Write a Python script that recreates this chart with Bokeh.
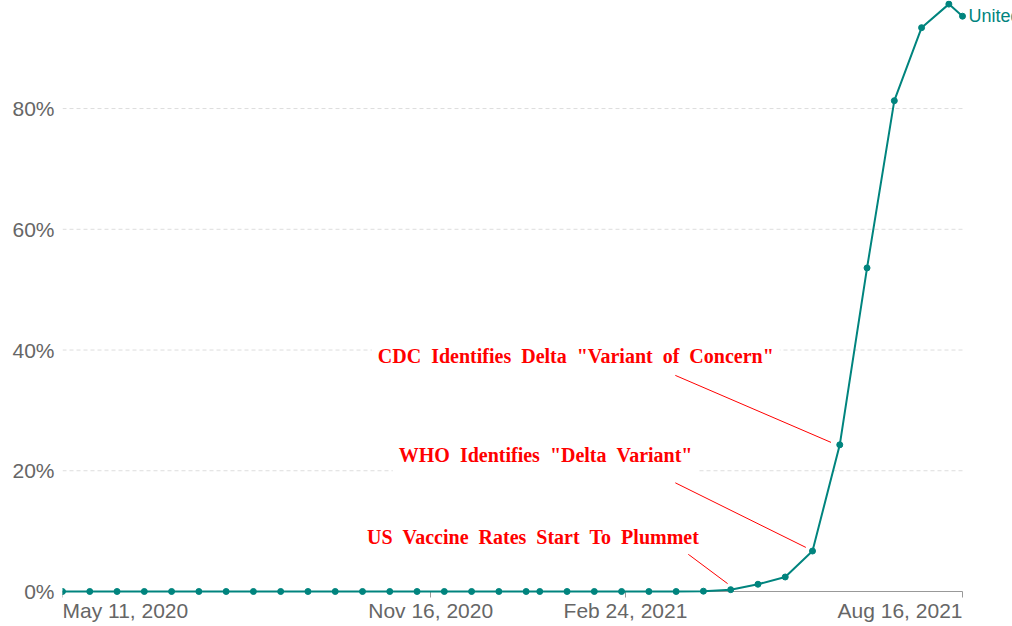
import pandas as pd
from bokeh.plotting import figure
from bokeh.models import (ColumnDataSource, Range1d, FixedTicker,
                          CustomJSTickFormatter, Label)
from bokeh.embed import file_html
from bokeh.resources import INLINE

# ---------------- data ----------------
DATES = [
    "2020-05-11", "2020-05-25", "2020-06-08", "2020-06-22", "2020-07-06",
    "2020-07-20", "2020-08-03", "2020-08-17", "2020-08-31", "2020-09-14",
    "2020-09-28", "2020-10-12", "2020-10-26", "2020-11-09", "2020-11-23",
    "2020-12-07", "2020-12-21", "2021-01-04", "2021-01-11", "2021-01-25",
    "2021-02-08", "2021-02-22", "2021-03-08", "2021-03-22", "2021-04-05",
    "2021-04-19", "2021-05-03", "2021-05-17", "2021-05-31", "2021-06-14",
    "2021-06-28", "2021-07-12", "2021-07-26", "2021-08-09", "2021-08-16",
]
DELTA_SHARE = [
    0, 0, 0, 0, 0,
    0, 0, 0, 0, 0,
    0, 0, 0, 0, 0,
    0, 0, 0, 0, 0,
    0, 0, 0, 0, 0.05,
    0.3, 1.2, 2.4, 6.7, 24.3,
    53.6, 81.3, 93.4, 97.3, 95.3,
]
SERIES_NAME = "United States"

X_TICK_DATES = ["2020-05-11", "2020-11-16", "2021-02-24", "2021-08-16"]
X_TICK_LABELS = ["May 11, 2020", "Nov 16, 2020", "Feb 24, 2021", "Aug 16, 2021"]
Y_TICKS = [0, 20, 40, 60, 80]
Y_GRID = [20, 40, 60, 80]

SP = "\u2002"
ANNOT_TEXTS = [
    SP.join(["CDC", "Identifies", "Delta", '"Variant', "of", 'Concern"']),
    SP.join(["WHO", "Identifies", '"Delta', 'Variant"']),
    SP.join(["US", "Vaccine", "Rates", "Start", "To", "Plummet"]),
]
ANNOT_TEXT_DATE = ["2021-01-29 12:00", "2021-01-14 00:00", "2021-01-07 12:00"]
ANNOT_TEXT_VALUE = [39.0, 22.6, 9.0]
ANNOT_FROM_DATE = ["2021-03-21 14:00", "2021-03-21 14:00", "2021-03-28 02:00"]
ANNOT_FROM_VALUE = [35.8, 18.0, 6.2]
ANNOT_TO_DATE = ["2021-06-09 12:00", "2021-05-27 14:00", "2021-04-17 10:00"]
ANNOT_TO_VALUE = [24.7, 7.3, 1.3]

# ---------------- layout / style ----------------
W, H = 1012, 626
LEFT = 62            # frame left edge (px)
DATA_RIGHT = 962     # pixel where the last date sits
Y_LO, Y_HI = -5.8, 97.9   # frame covers the area under the axis too

TEAL = "#00847e"
RED = "#ff0000"
GRAY_TXT = "#666666"
SANS = "Liberation Sans"
SERIF = "Liberation Serif"

dates = pd.to_datetime(DATES)
span = dates[-1] - dates[0]
x_end = dates[-1] + span * ((W - DATA_RIGHT) / (DATA_RIGHT - LEFT))

src = ColumnDataSource(dict(date=dates, share=DELTA_SHARE))

p = figure(width=W, height=H, x_axis_type="datetime",
           output_backend="svg", toolbar_location=None, tools="",
           x_range=Range1d(dates[0], x_end),
           y_range=Range1d(Y_LO, Y_HI),
           min_border_left=LEFT, min_border_right=0,
           min_border_top=0, min_border_bottom=0)
p.outline_line_color = None
p.background_fill_color = "white"
p.border_fill_color = "white"

# grid (dashed, limited to the data's date span)
p.xgrid.visible = False
p.ygrid.visible = False
grid_src = ColumnDataSource(dict(
    x0=[dates[0]] * len(Y_GRID), x1=[dates[-1]] * len(Y_GRID),
    y=Y_GRID))
p.segment("x0", "y", "x1", "y", source=grid_src, line_color="#dddddd",
          line_width=1, line_dash="4 3", level="underlay")

# y axis
p.yaxis.ticker = FixedTicker(ticks=Y_TICKS)
p.yaxis.formatter = CustomJSTickFormatter(code="return tick.toFixed(0) + '%';")
p.yaxis.axis_line_color = None
p.yaxis.major_tick_line_color = None
p.yaxis.major_tick_out = 0
p.yaxis.major_tick_in = 0
p.yaxis.minor_tick_line_color = None
p.yaxis.minor_tick_out = 0
p.yaxis.major_label_text_font = SANS
p.yaxis.major_label_text_font_size = "21px"
p.yaxis.major_label_text_color = GRAY_TXT
p.yaxis.major_label_standoff = 8

# x axis, pinned at 0%, drawn under the data line
tick_ms = [pd.Timestamp(d).value / 1e6 for d in X_TICK_DATES]
p.xaxis.fixed_location = 0
p.xaxis.bounds = (dates[0], dates[-1])
p.xaxis.level = "underlay"
p.xaxis.ticker = FixedTicker(ticks=tick_ms)
p.xaxis.formatter = CustomJSTickFormatter(
    args=dict(labels=X_TICK_LABELS),
    code="if (index == 0 || index == labels.length - 1) { return ''; } return labels[index];")
p.xaxis.axis_line_color = "#999999"
p.xaxis.major_tick_line_color = "#999999"
p.xaxis.major_tick_out = 6
p.xaxis.major_tick_in = 0
p.xaxis.minor_tick_line_color = None
p.xaxis.major_label_text_font = SANS
p.xaxis.major_label_text_font_size = "21px"
p.xaxis.major_label_text_color = GRAY_TXT
p.xaxis.major_label_standoff = 2

# end tick labels, aligned to the ends of the axis
p.add_layout(Label(x=pd.Timestamp(X_TICK_DATES[0]), y=0, y_offset=-8,
                   text=X_TICK_LABELS[0], text_align="left", text_baseline="top",
                   text_font=SANS, text_font_size="21px", text_color=GRAY_TXT))
p.add_layout(Label(x=pd.Timestamp(X_TICK_DATES[-1]), y=0, y_offset=-8,
                   text=X_TICK_LABELS[-1], text_align="right", text_baseline="top",
                   text_font=SANS, text_font_size="21px", text_color=GRAY_TXT))

# series
p.line("date", "share", source=src, line_color=TEAL, line_width=2)
p.scatter("date", "share", source=src, size=6, fill_color=TEAL, line_color=TEAL)
p.add_layout(Label(x=dates[-1], y=DELTA_SHARE[-1], x_offset=6,
                   text=SERIES_NAME, text_align="left", text_baseline="middle",
                   text_font=SANS, text_font_size="18px", text_color=TEAL))

# annotations
seg = ColumnDataSource(dict(
    x0=pd.to_datetime(ANNOT_FROM_DATE), y0=ANNOT_FROM_VALUE,
    x1=pd.to_datetime(ANNOT_TO_DATE), y1=ANNOT_TO_VALUE))
p.segment("x0", "y0", "x1", "y1", source=seg, line_color=RED, line_width=1)

for txt, d, v in zip(ANNOT_TEXTS, ANNOT_TEXT_DATE, ANNOT_TEXT_VALUE):
    p.add_layout(Label(x=pd.Timestamp(d), y=v, text=txt,
                       text_align="center", text_baseline="middle",
                       text_font=SERIF, text_font_style="bold",
                       text_font_size="20px", text_color=RED,
                       background_fill_color="white", padding=6))

open("out.html", "w").write(file_html(p, INLINE))
